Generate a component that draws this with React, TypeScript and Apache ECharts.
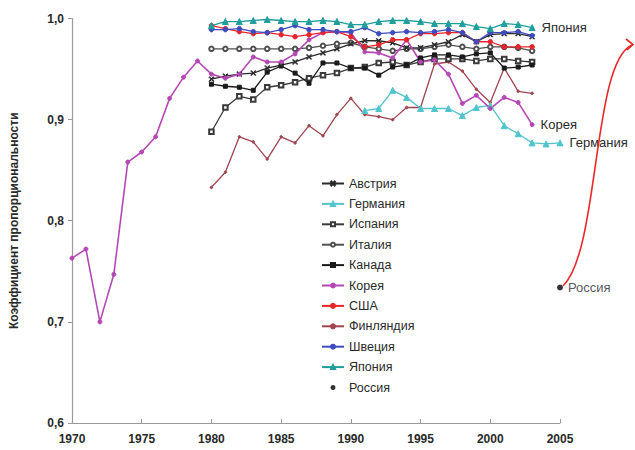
import React, { useEffect, useRef } from "react";
import * as echarts from "echarts";

const yearsKorea = [1970, 1971, 1972, 1973, 1974, 1975, 1976, 1977, 1978, 1979, 1980, 1981, 1982, 1983, 1984, 1985, 1986, 1987, 1988, 1989, 1990, 1991, 1992, 1993, 1994, 1995, 1996, 1997, 1998, 1999, 2000, 2001, 2002, 2003];
const years80 = [1980, 1981, 1982, 1983, 1984, 1985, 1986, 1987, 1988, 1989, 1990, 1991, 1992, 1993, 1994, 1995, 1996, 1997, 1998, 1999, 2000, 2001, 2002, 2003];
const yearsGermany = [1991, 1992, 1993, 1994, 1995, 1996, 1997, 1998, 1999, 2000, 2001, 2002, 2003, 2004, 2005];

const korea = [0.763, 0.772, 0.700, 0.747, 0.858, 0.868, 0.883, 0.921, 0.942, 0.958, 0.945, 0.941, 0.945, 0.962, 0.957, 0.957, 0.965, 0.979, 0.986, 0.987, 0.986, 0.967, 0.966, 0.961, 0.979, 0.957, 0.959, 0.945, 0.916, 0.924, 0.911, 0.922, 0.917, 0.895];
const japan = [0.993, 0.997, 0.997, 0.998, 0.999, 0.998, 0.997, 0.997, 0.998, 0.997, 0.994, 0.994, 0.997, 0.998, 0.998, 0.997, 0.995, 0.995, 0.995, 0.992, 0.990, 0.995, 0.994, 0.991];
const sweden = [0.989, 0.989, 0.990, 0.987, 0.986, 0.989, 0.993, 0.989, 0.989, 0.987, 0.987, 0.991, 0.985, 0.986, 0.987, 0.986, 0.987, 0.989, 0.986, 0.977, 0.986, 0.986, 0.987, 0.983];
const usa = [0.993, 0.990, 0.987, 0.985, 0.986, 0.984, 0.982, 0.984, 0.986, 0.987, 0.982, 0.972, 0.974, 0.979, 0.979, 0.985, 0.985, 0.986, 0.986, 0.977, 0.977, 0.972, 0.972, 0.972];
const italy = [0.970, 0.970, 0.970, 0.970, 0.970, 0.970, 0.970, 0.971, 0.973, 0.975, 0.976, 0.972, 0.970, 0.968, 0.970, 0.970, 0.972, 0.974, 0.972, 0.970, 0.972, 0.972, 0.971, 0.968];
const austria = [0.940, 0.943, 0.945, 0.946, 0.951, 0.954, 0.957, 0.962, 0.966, 0.970, 0.975, 0.978, 0.978, 0.976, 0.971, 0.971, 0.974, 0.977, 0.984, 0.977, 0.984, 0.985, 0.985, 0.982];
const canada = [0.935, 0.933, 0.932, 0.929, 0.947, 0.953, 0.946, 0.936, 0.956, 0.956, 0.951, 0.951, 0.944, 0.952, 0.954, 0.961, 0.964, 0.964, 0.962, 0.965, 0.966, 0.951, 0.952, 0.954];
const spain = [0.888, 0.912, 0.923, 0.920, 0.932, 0.934, 0.937, 0.941, 0.944, 0.946, 0.951, 0.952, 0.956, 0.957, 0.954, 0.957, 0.960, 0.960, 0.960, 0.958, 0.960, 0.960, 0.958, 0.957];
const finland = [0.833, 0.848, 0.883, 0.878, 0.861, 0.883, 0.877, 0.894, 0.884, 0.905, 0.921, 0.905, 0.903, 0.900, 0.912, 0.912, 0.955, 0.957, 0.948, 0.930, 0.917, 0.951, 0.928, 0.926];
const germany = [0.909, 0.911, 0.929, 0.922, 0.911, 0.911, 0.911, 0.904, 0.912, 0.914, 0.894, 0.886, 0.877, 0.876, 0.877];
const russiaYear = 2005;
const russia = 0.734;

const yTicks = [0.6, 0.7, 0.8, 0.9, 1.0];

const FONT = "Arial, 'Liberation Sans', sans-serif";
const X_MARK = "path://M0,1L1,0L5,4L9,0L10,1L6,5L10,9L9,10L5,6L1,10L0,9L4,5Z";

function pairs(years: number[], vals: number[], endLabel?: string) {
  return years.map((y, i) => {
    const item: any = { value: [y, vals[i]] };
    if (endLabel && i === years.length - 1) {
      item.label = {
        show: true,
        position: "right",
        distance: 6,
        formatter: endLabel,
        color: "#2a2a2a",
        fontSize: 13,
        fontFamily: FONT,
      };
    }
    return item;
  });
}

function line(name: string, years: number[], vals: number[], color: string, symbol: string, size: number, endLabel?: string, width = 1.3) {
  return {
    name,
    type: "line",
    data: pairs(years, vals, endLabel),
    symbol,
    symbolSize: size,
    lineStyle: { color, width },
    itemStyle: { color, borderColor: color, borderWidth: 1 },
  };
}

export default function App() {
  const ref = useRef<HTMLDivElement>(null);
  useEffect(() => {
    document.body.style.margin = "0";
    const chart = echarts.init(ref.current!, null, { renderer: "svg" });
    chart.setOption({
      animation: false,
      backgroundColor: "#ffffff",
      grid: { left: 70, right: 75, top: 18.5, bottom: 27, containLabel: false },
      xAxis: {
        type: "value",
        min: 1970,
        max: 2005,
        interval: 5,
        splitLine: { show: false },
        axisLine: { lineStyle: { color: "#9a9a9a", width: 1.2 } },
        axisTick: { inside: true, length: 4, lineStyle: { color: "#9a9a9a" } },
        axisLabel: {
          color: "#2a2a2a",
          fontSize: 12,
          fontWeight: "bold",
          fontFamily: FONT,
          margin: 10,
          formatter: (v: number) => String(v),
        },
      },
      yAxis: {
        type: "value",
        min: yTicks[0],
        max: yTicks[yTicks.length - 1],
        interval: 0.1,
        name: "Коэффициент пропорциональности",
        nameLocation: "middle",
        nameGap: 52,
        nameTextStyle: { color: "#2a2a2a", fontSize: 12, fontWeight: "bold", fontFamily: FONT },
        splitLine: { show: false },
        axisLine: { show: true, lineStyle: { color: "#9a9a9a", width: 1.2 } },
        axisTick: { show: true, inside: false, length: 4, lineStyle: { color: "#9a9a9a" } },
        axisLabel: {
          color: "#2a2a2a",
          fontSize: 12,
          fontWeight: "bold",
          fontFamily: FONT,
          margin: 8,
          formatter: (v: number) => v.toFixed(1).replace(".", ","),
        },
      },
      legend: {
        orient: "vertical",
        left: 316,
        top: 172,
        itemWidth: 22,
        itemHeight: 5,
        itemGap: 7.4,
        textStyle: { color: "#2a2a2a", fontSize: 12.5, fontFamily: FONT },
        data: ["Австрия", "Германия", "Испания", "Италия", "Канада", "Корея", "США", "Финляндия", "Швеция", "Япония", "Россия"],
      },
      series: [
        line("Финляндия", years80, finland, "#a0444f", "circle", 2.5),
        line("Германия", yearsGermany, germany, "#52c4cc", "triangle", 6, "Германия"),
        line("Испания", years80, spain, "#3a3a3a", "emptyRect", 4.5),
        line("Канада", years80, canada, "#1a1a1a", "rect", 4),
        line("Италия", years80, italy, "#505050", "emptyCircle", 4.5),
        line("Австрия", years80, austria, "#2a2a2a", X_MARK, 5),
        line("Корея", yearsKorea, korea, "#b548b5", "circle", 4, "Корея", 1.6),
        line("США", years80, usa, "#e8262a", "circle", 4.5),
        line("Швеция", years80, sweden, "#3d4cc0", "circle", 4.5),
        line("Япония", years80, japan, "#1f9e9c", "triangle", 6, "Япония"),
        {
          name: "Россия",
          type: "scatter",
          symbol: "circle",
          symbolSize: 6,
          itemStyle: { color: "#000000" },
          data: [
            {
              value: [russiaYear, russia],
              label: { show: true, position: "right", distance: 5, formatter: "Россия", color: "#2a2a2a", fontSize: 13, fontFamily: FONT },
            },
          ],
        },
      ],
      graphic: [
        {
          type: "bezierCurve",
          shape: { x1: 563, y1: 286, cpx1: 600, cpy1: 250, cpx2: 592, cpy2: 62, x2: 632, y2: 45 },
          style: { stroke: "#e8282a", lineWidth: 1.6, fill: null },
          z: 100,
        },
        {
          type: "polyline",
          shape: { points: [[626, 39], [633, 44.5], [627, 50]] },
          style: { stroke: "#e8282a", lineWidth: 1.6, fill: null },
          z: 100,
        },
      ],
    });
    return () => chart.dispose();
  }, []);
  return <div ref={ref} style={{ width: 635, height: 450 }} />;
}
